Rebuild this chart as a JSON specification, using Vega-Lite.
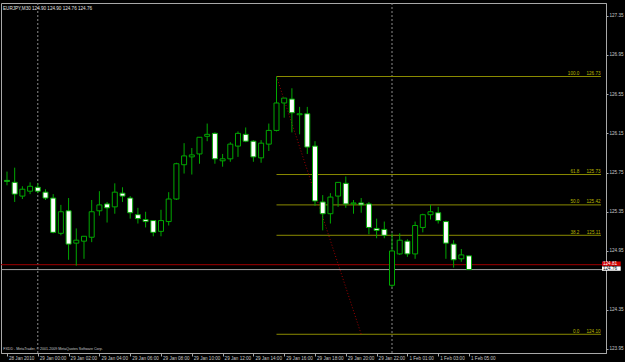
{
  "$schema": "https://vega.github.io/schema/vega-lite/v6.json",
  "width": 605,
  "height": 350,
  "autosize": "none",
  "padding": {"left": 1, "top": 3, "right": 19, "bottom": 9},
  "background": "#000000",
  "config": {"view": {"stroke": "#a8a8a8", "strokeWidth": 1}, "font": "Liberation Sans"},
  "title": {"text": "EURJPY,M30  124.90 124.90 124.76 124.76", "anchor": "start", "frame": "group", "offset": -8, "fontSize": 4.6, "fontWeight": "normal", "color": "#e0e0e0", "font": "Liberation Sans", "dx": 2},
  "datasets": {
    "candles": [
      {"i":0,"o":125.67,"h":125.76,"l":125.62,"c":125.66},
      {"i":1,"o":125.65,"h":125.80,"l":125.45,"c":125.53},
      {"i":2,"o":125.51,"h":125.61,"l":125.48,"c":125.58},
      {"i":3,"o":125.56,"h":125.65,"l":125.53,"c":125.61},
      {"i":4,"o":125.60,"h":125.64,"l":125.54,"c":125.56},
      {"i":5,"o":125.55,"h":125.58,"l":125.47,"c":125.49},
      {"i":6,"o":125.49,"h":125.53,"l":125.13,"c":125.14},
      {"i":7,"o":125.13,"h":125.42,"l":125.11,"c":125.35},
      {"i":8,"o":125.36,"h":125.49,"l":124.86,"c":125.02},
      {"i":9,"o":125.03,"h":125.18,"l":124.80,"c":125.06},
      {"i":10,"o":125.05,"h":125.10,"l":124.87,"c":125.10},
      {"i":11,"o":125.09,"h":125.47,"l":125.04,"c":125.35},
      {"i":12,"o":125.36,"h":125.56,"l":125.31,"c":125.42},
      {"i":13,"o":125.43,"h":125.45,"l":125.24,"c":125.39},
      {"i":14,"o":125.40,"h":125.64,"l":125.33,"c":125.55},
      {"i":15,"o":125.54,"h":125.60,"l":125.45,"c":125.51},
      {"i":16,"o":125.49,"h":125.51,"l":125.28,"c":125.34},
      {"i":17,"o":125.32,"h":125.39,"l":125.23,"c":125.28},
      {"i":18,"o":125.27,"h":125.35,"l":125.19,"c":125.25},
      {"i":19,"o":125.26,"h":125.26,"l":125.10,"c":125.14},
      {"i":20,"o":125.15,"h":125.37,"l":125.10,"c":125.26},
      {"i":21,"o":125.25,"h":125.55,"l":125.21,"c":125.48},
      {"i":22,"o":125.48,"h":125.85,"l":125.47,"c":125.84},
      {"i":23,"o":125.83,"h":126.05,"l":125.74,"c":125.92},
      {"i":24,"o":125.91,"h":126.00,"l":125.73,"c":125.93},
      {"i":25,"o":125.94,"h":126.11,"l":125.84,"c":126.11},
      {"i":26,"o":126.12,"h":126.25,"l":126.07,"c":126.14},
      {"i":27,"o":126.15,"h":126.16,"l":125.84,"c":125.89},
      {"i":28,"o":125.87,"h":125.94,"l":125.81,"c":125.89},
      {"i":29,"o":125.89,"h":126.06,"l":125.86,"c":126.04},
      {"i":30,"o":126.02,"h":126.17,"l":125.91,"c":126.15},
      {"i":31,"o":126.14,"h":126.21,"l":126.06,"c":126.07},
      {"i":32,"o":126.07,"h":126.08,"l":125.86,"c":125.91},
      {"i":33,"o":125.90,"h":126.08,"l":125.85,"c":126.05},
      {"i":34,"o":126.04,"h":126.25,"l":125.97,"c":126.18},
      {"i":35,"o":126.18,"h":126.73,"l":126.17,"c":126.46},
      {"i":36,"o":126.46,"h":126.51,"l":126.31,"c":126.51},
      {"i":37,"o":126.50,"h":126.61,"l":126.16,"c":126.36},
      {"i":38,"o":126.34,"h":126.42,"l":126.14,"c":126.35},
      {"i":39,"o":126.35,"h":126.42,"l":125.94,"c":126.01},
      {"i":40,"o":126.02,"h":126.07,"l":125.41,"c":125.46},
      {"i":41,"o":125.45,"h":125.52,"l":125.16,"c":125.33},
      {"i":42,"o":125.33,"h":125.54,"l":125.23,"c":125.50},
      {"i":43,"o":125.51,"h":125.65,"l":125.40,"c":125.65},
      {"i":44,"o":125.64,"h":125.71,"l":125.39,"c":125.43},
      {"i":45,"o":125.43,"h":125.47,"l":125.33,"c":125.44},
      {"i":46,"o":125.44,"h":125.49,"l":125.34,"c":125.42},
      {"i":47,"o":125.43,"h":125.45,"l":125.12,"c":125.19},
      {"i":48,"o":125.18,"h":125.28,"l":125.08,"c":125.16},
      {"i":49,"o":125.17,"h":125.25,"l":125.08,"c":125.11},
      {"i":50,"o":124.60,"h":125.13,"l":124.58,"c":124.95},
      {"i":51,"o":124.92,"h":125.13,"l":124.91,"c":125.06},
      {"i":52,"o":125.05,"h":125.07,"l":124.89,"c":124.92},
      {"i":53,"o":124.92,"h":125.25,"l":124.87,"c":125.21},
      {"i":54,"o":125.19,"h":125.33,"l":125.14,"c":125.32},
      {"i":55,"o":125.32,"h":125.42,"l":125.27,"c":125.35},
      {"i":56,"o":125.34,"h":125.40,"l":125.23,"c":125.26},
      {"i":57,"o":125.25,"h":125.26,"l":124.87,"c":125.03},
      {"i":58,"o":125.02,"h":125.06,"l":124.78,"c":124.86},
      {"i":59,"o":124.87,"h":124.97,"l":124.84,"c":124.91},
      {"i":60,"o":124.90,"h":124.90,"l":124.76,"c":124.76}
    ],
    "seps": [{"i": 4}, {"i": 50}],
    "fibo": [
      {"lvl": "100.0", "p": 126.73},
      {"lvl": "61.8", "p": 125.73},
      {"lvl": "50.0", "p": 125.42},
      {"lvl": "38.2", "p": 125.11},
      {"lvl": "0.0", "p": 124.10}
    ],
    "trend": [{"i": 35, "p": 126.73}, {"i": 46, "p": 124.10}],
    "quotes": [{"name": "ask", "p": 124.81}, {"name": "bid", "p": 124.76}]
  },
  "layer": [
    {
      "data": {"name": "seps"},
      "mark": {"type": "rule", "color": "#8c8c8c", "strokeDash": [2, 2], "strokeWidth": 1},
      "encoding": {
        "x": {"field": "i", "type": "quantitative", "scale": {"domain": [-0.128, 77.14], "nice": false, "zero": false},
          "axis": {
            "values": [0,4,8,12,16,20,24,28,32,36,40,44,48,52,56,60],
            "labelExpr": "['28 Jan 2010','29 Jan 00:00','29 Jan 02:00','29 Jan 04:00','29 Jan 06:00','29 Jan 08:00','29 Jan 10:00','29 Jan 12:00','29 Jan 14:00','29 Jan 16:00','29 Jan 18:00','29 Jan 20:00','29 Jan 22:00','1 Feb 01:00','1 Feb 03:00','1 Feb 05:00'][round(datum.value/4)]",
            "labelAlign": "left", "labelBaseline": "top", "labelPadding": -1, "labelOffset": 1.5,
            "labelFont": "Liberation Sans", "labelFontSize": 4.6, "labelColor": "#c8c8c8",
            "labelOverlap": false, "labelBound": false, "labelFlush": false,
            "tickSize": 3, "tickColor": "#a8a8a8", "domainColor": "#a8a8a8", "grid": false,
            "title": "FXDD - MetaTrader, © 2001-2009 MetaQuotes Software Corp.",
            "titleX": 1.7, "titleY": -5, "titleAlign": "left", "titleBaseline": "middle", "titleAnchor": null,
            "titleFont": "Liberation Sans", "titleFontSize": 3.6, "titleFontWeight": "normal", "titleColor": "#c8c8c8"
          }
        }
      }
    },
    {
      "data": {"name": "fibo"},
      "mark": {"type": "rule", "color": "#8a8a00", "strokeWidth": 1},
      "encoding": {
        "x": {"datum": 35, "type": "quantitative"},
        "x2": {"datum": 77.14},
        "y": {"field": "p", "type": "quantitative", "scale": {"domain": [123.909, 127.48], "nice": false, "zero": false},
          "axis": {
            "orient": "right",
            "values": [123.95,124.15,124.35,124.55,124.95,125.15,125.35,125.55,125.75,125.95,126.15,126.35,126.55,126.75,126.95,127.15,127.35],
            "format": ".2f", "tickSize": 2, "labelPadding": 1, "labelAlign": "left", "labelBaseline": "middle",
            "labelFont": "Liberation Sans", "labelFontSize": 4.6, "labelColor": "#c8c8c8",
            "labelOverlap": false, "labelBound": false, "labelFlush": false,
            "tickColor": "#a8a8a8", "domainColor": "#a8a8a8", "grid": false, "title": null
          }
        }
      }
    },
    {
      "data": {"name": "fibo"},
      "mark": {"type": "text", "align": "right", "baseline": "bottom", "dy": -0.5, "fontSize": 4.6, "font": "Liberation Sans", "color": "#b8b800"},
      "encoding": {
        "x": {"datum": 74.33, "type": "quantitative"},
        "y": {"field": "p", "type": "quantitative"},
        "text": {"field": "lvl"}
      }
    },
    {
      "data": {"name": "fibo"},
      "mark": {"type": "text", "align": "right", "baseline": "bottom", "dy": -0.5, "fontSize": 4.6, "font": "Liberation Sans", "color": "#b8b800"},
      "encoding": {
        "x": {"datum": 77.08, "type": "quantitative"},
        "y": {"field": "p", "type": "quantitative"},
        "text": {"field": "p", "format": ".2f"}
      }
    },
    {
      "data": {"name": "trend"},
      "mark": {"type": "line", "color": "#a00000", "strokeDash": [1, 2], "strokeWidth": 1},
      "encoding": {
        "x": {"field": "i", "type": "quantitative"},
        "y": {"field": "p", "type": "quantitative"}
      }
    },
    {
      "data": {"name": "quotes"},
      "mark": {"type": "rule", "strokeWidth": 1},
      "encoding": {
        "y": {"field": "p", "type": "quantitative"},
        "color": {"condition": {"test": "datum.name == 'ask'", "value": "#a00000"}, "value": "#a0a0a0"}
      }
    },
    {
      "data": {"name": "candles"},
      "mark": {"type": "rule", "color": "#00a800", "strokeWidth": 1},
      "encoding": {
        "x": {"field": "i", "type": "quantitative"},
        "y": {"field": "l", "type": "quantitative"},
        "y2": {"field": "h"}
      }
    },
    {
      "data": {"name": "candles"},
      "mark": {"type": "bar", "width": 5, "stroke": "#00a800", "strokeWidth": 1},
      "encoding": {
        "x": {"field": "i", "type": "quantitative"},
        "y": {"field": "o", "type": "quantitative"},
        "y2": {"field": "c"},
        "fill": {"condition": {"test": "datum.c < datum.o", "value": "#ffffff"}, "value": "#000000"}
      }
    },
    {
      "data": {"name": "quotes"},
      "mark": {"type": "rule", "strokeWidth": 4.4, "strokeCap": "butt", "clip": false, "yOffset": -1},
      "encoding": {
        "x": {"datum": 77.27, "type": "quantitative"},
        "x2": {"datum": 79.7},
        "y": {"field": "p", "type": "quantitative"},
        "color": {"condition": {"test": "datum.name == 'ask'", "value": "#d00000"}, "value": "#ffffff"}
      }
    },
    {
      "data": {"name": "quotes"},
      "mark": {"type": "text", "align": "left", "baseline": "middle", "fontSize": 4.6, "font": "Liberation Sans", "clip": false, "yOffset": -1},
      "encoding": {
        "x": {"datum": 77.4, "type": "quantitative"},
        "y": {"field": "p", "type": "quantitative"},
        "text": {"field": "p", "format": ".2f"},
        "color": {"condition": {"test": "datum.name == 'ask'", "value": "#ffffff"}, "value": "#000000"}
      }
    }
  ]
}
